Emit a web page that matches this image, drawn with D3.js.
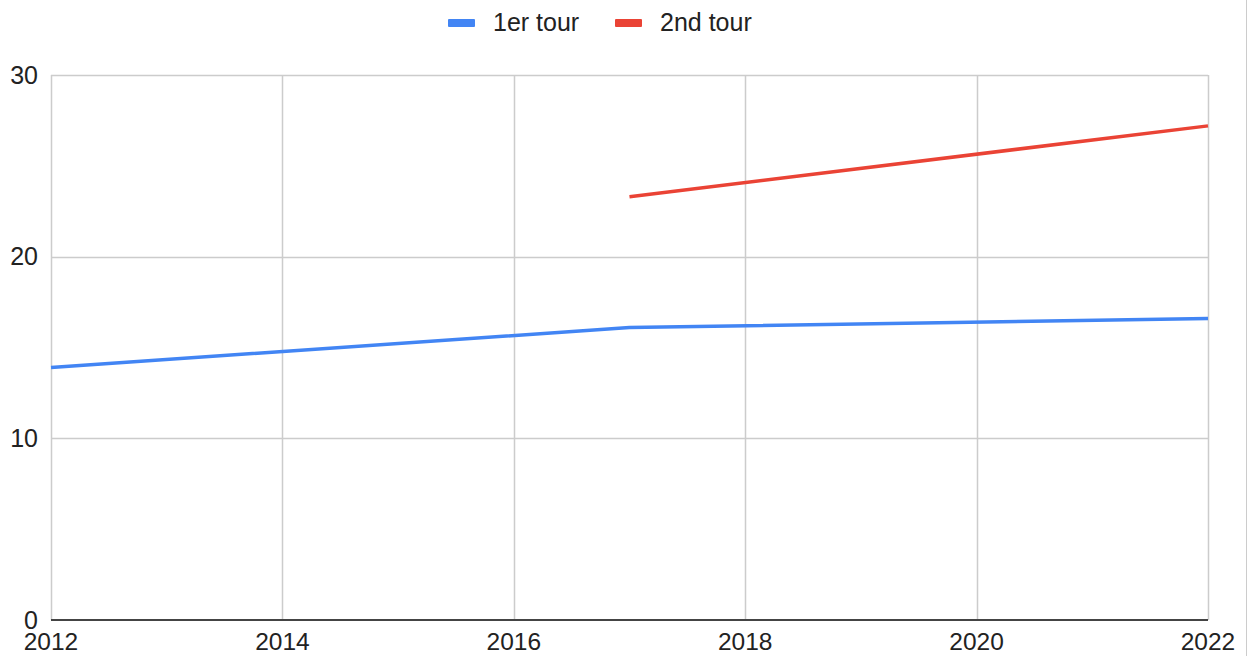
<!DOCTYPE html>
<html><head><meta charset="utf-8">
<script src="https://cdn.jsdelivr.net/npm/d3@7"></script>
<style>body{margin:0;background:#fff}svg{display:block}text{font-family:"Liberation Sans",Arial,sans-serif;fill:#222}</style>
</head><body><svg id="c" width="1249" height="656"></svg>
<script>
const seriesNames = ["1er tour", "2nd tour"];
const seriesColors = ["#4285F4", "#EA4335"];
const years1 = [2012, 2017, 2022];
const values1 = [13.9, 16.1, 16.6];
const years2 = [2017, 2022];
const values2 = [23.3, 27.2];
const xTicks = [2012, 2014, 2016, 2018, 2020, 2022];
const yTicks = [0, 10, 20, 30];

const svg = d3.select("#c");
const m = {l: 51, r: 1208, t: 75, b: 620};
const x = d3.scaleLinear().domain([2012, 2022]).range([m.l, m.r]);
const y = d3.scaleLinear().domain([0, 30]).range([m.b, m.t]);

// right frame line
svg.append("line").attr("x1", 1246.5).attr("x2", 1246.5).attr("y1", 0).attr("y2", 656)
  .attr("stroke", "#ccc").attr("stroke-width", 1);

// gridlines
svg.append("g").selectAll("line").data(yTicks.filter(d => d > 0)).join("line")
  .attr("x1", m.l).attr("x2", m.r).attr("y1", d => Math.round(y(d)) + 0.5).attr("y2", d => Math.round(y(d)) + 0.5)
  .attr("stroke", "#cccccc").attr("stroke-width", 1.5);
svg.append("g").selectAll("line").data(xTicks).join("line")
  .attr("x1", d => Math.round(x(d)) + 0.5).attr("x2", d => Math.round(x(d)) + 0.5).attr("y1", m.t).attr("y2", m.b)
  .attr("stroke", "#cccccc").attr("stroke-width", 1.5);

// baseline axis
svg.append("line").attr("x1", m.l).attr("x2", m.r).attr("y1", y(0)).attr("y2", y(0))
  .attr("stroke", "#444").attr("stroke-width", 2);

// y tick labels
svg.append("g").selectAll("text").data(yTicks).join("text")
  .attr("x", 38).attr("y", d => y(d)).attr("dy", "0.35em").attr("text-anchor", "end")
  .attr("font-size", 25).text(d => d);

// x tick labels
svg.append("g").selectAll("text").data(xTicks).join("text")
  .attr("x", d => x(d)).attr("y", 650).attr("text-anchor", "middle")
  .attr("font-size", 24.5).text(d => d);

// lines
const line = d3.line().x(d => x(d[0])).y(d => y(d[1]));
const data = [d3.zip(years1, values1), d3.zip(years2, values2)];
svg.append("g").selectAll("path").data(data).join("path")
  .attr("d", line).attr("fill", "none").attr("stroke", (d, i) => seriesColors[i])
  .attr("stroke-width", 3.5).attr("stroke-linejoin", "round");

// legend
const legX = [448, 615];
const lg = svg.append("g").selectAll("g").data(seriesNames).join("g")
  .attr("transform", (d, i) => `translate(${legX[i]},0)`);
lg.append("rect").attr("x", 0).attr("y", 19).attr("width", 27).attr("height", 8).attr("rx", 1)
  .attr("fill", (d, i) => seriesColors[i]);
lg.append("text").attr("x", 45).attr("y", 30.5).attr("font-size", 25).text(d => d);
</script></body></html>
